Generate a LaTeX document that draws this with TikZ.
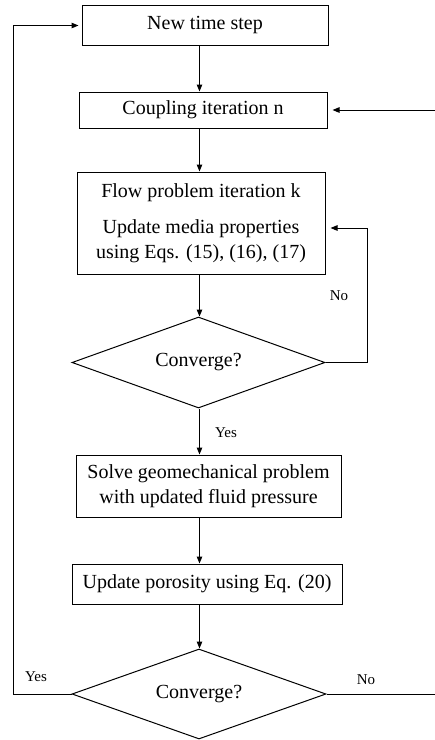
\documentclass[tikz,border=0pt]{standalone}
\usepackage{fontspec}
\setmainfont{Liberation Serif}
\usetikzlibrary{shapes.geometric,arrows.meta}

\tikzset{
  procbox/.style={draw, line width=1pt, inner sep=0pt, align=center,
    font=\fontsize{20}{25}\selectfont},
  decision/.style={draw, diamond, line width=1pt, inner sep=0pt, aspect=2.78,
    font=\fontsize{20}{24}\selectfont},
  flow/.style={line width=1pt, -{Triangle[length=7pt,width=5.5pt]}},
  branch/.style={font=\fontsize{15}{18}\selectfont, inner sep=0pt},
}

\begin{document}
\begin{tikzpicture}[x=1pt,y=-1pt]
  % canvas
  \useasboundingbox (0,0) rectangle (435,740);
  \clip (0,0) rectangle (435,740);

  % process boxes
  \node[procbox, minimum width=246pt, minimum height=40pt] (b1) at (205,25.5) {New time step};
  \node[procbox, minimum width=248pt, minimum height=36pt] (b2) at (203,110) {Coupling iteration n};
  \node[procbox, minimum width=248pt, minimum height=102pt] (b3) at (201,223)
    {Flow problem iteration k\\[11pt]Update media properties\\using Eqs. (15), (16), (17)};
  \node[decision, minimum width=253pt, minimum height=91pt] (d1) at (198.5,362.5) {Converge?};
  \node[procbox, minimum width=265pt, minimum height=62pt] (b4) at (208.5,486)
    {Solve geomechanical problem\\with updated fluid pressure};
  \node[procbox, minimum width=270pt, minimum height=40pt] (b5) at (207,584) {Update porosity using Eq. (20)};
  \node[decision, minimum width=254pt, minimum height=90pt] (d2) at (199,694) {Converge?};

  % main vertical axis and loop corners
  \coordinate (ax) at (199.5,0);
  \coordinate (innerTop) at (367,228);
  \coordinate (outerL) at (13,0);
  \coordinate (outerR) at (437,0);

  % downward flow
  \draw[flow] (b1.south -| ax) -- (b2.north -| ax);
  \draw[flow] (b2.south -| ax) -- (b3.north -| ax);
  \draw[flow] (b3.south -| ax) -- (d1.north -| ax);
  \draw[flow] (d1.south -| ax) -- (b4.north -| ax);
  \draw[flow] (b4.south -| ax) -- (b5.north -| ax);
  \draw[flow] (b5.south -| ax) -- (d2.north -| ax);

  % inner loop: flow iteration not converged
  \draw[flow, shorten >=5pt] (d1.east) -- (d1.east -| innerTop) -- (innerTop) -- (b3.east |- innerTop);

  % outer loop: converged -> new time step
  \draw[flow, shorten >=3pt] (d2.west) -- (d2.west -| outerL) -- (outerL |- b1.west) -- (b1.west);

  % outer loop: not converged -> next coupling iteration
  \draw[flow, shorten >=5pt] (d2.east) -- (d2.east -| outerR) -- (outerR |- b2.east) -- (b2.east);

  % branch labels
  \node[branch] (yes1) at (226,433) {Yes};
  \node[branch] (no1) at (339,296) {No};
  \node[branch] (yes2) at (36,677) {Yes};
  \node[branch] (no2) at (366,680) {No};
\end{tikzpicture}
\end{document}
